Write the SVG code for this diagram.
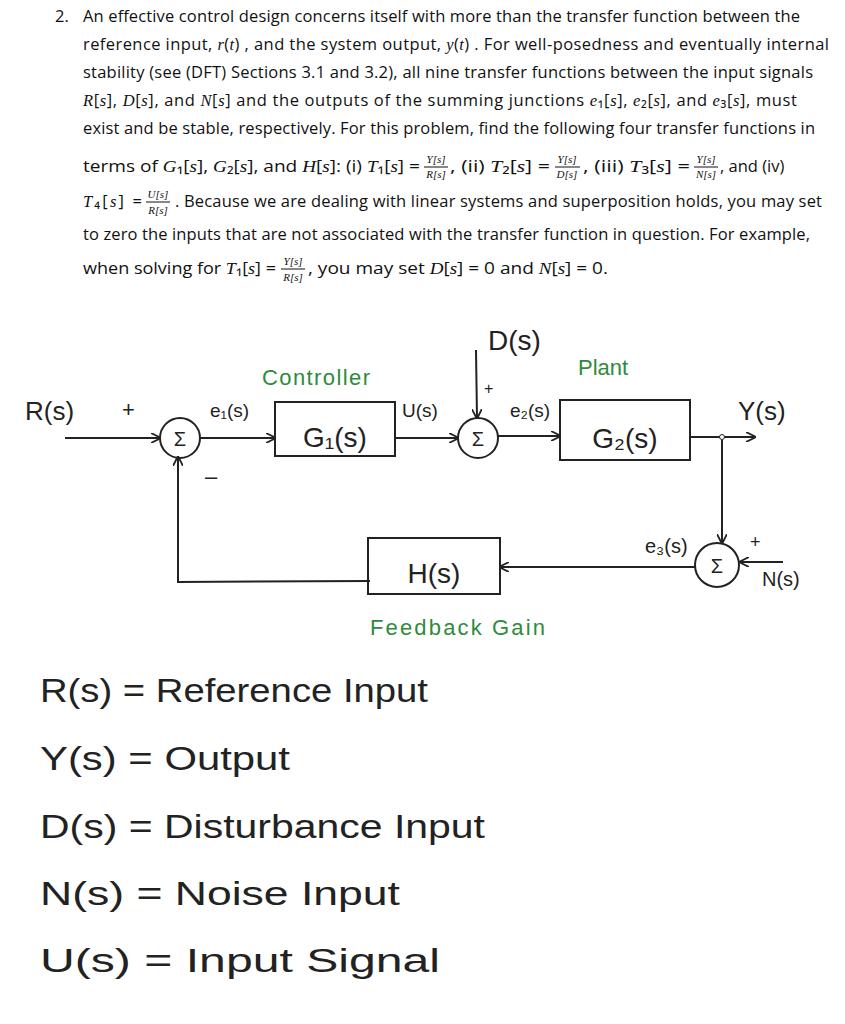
<svg xmlns="http://www.w3.org/2000/svg" width="845" height="1024" viewBox="0 0 845 1024">
<style>
.t{font-family:"Open Sans","Liberation Sans",sans-serif;font-size:16.5px;fill:#111}
.m{font-family:"Liberation Serif",serif;font-style:italic}
.f{font-family:"Liberation Serif",serif;font-style:italic;font-size:11px;fill:#111;text-anchor:middle}
.h{font-family:"Liberation Sans",sans-serif;font-weight:300;fill:#222}
.g{font-family:"Liberation Sans",sans-serif;fill:#2e8b3a}
.ln{fill:none;stroke:#222;stroke-width:2}
</style>
<defs><marker id="a" markerWidth="10" markerHeight="10" refX="9" refY="5" orient="auto" markerUnits="userSpaceOnUse"><path d="M0,0 L10,5 L0,10" fill="none" stroke="#222" stroke-width="1.8"/></marker></defs>
<g id="problem">
<text class="t" x="55" y="22">2.</text>
<text class="t" x="83" y="22" textLength="717">An effective control design concerns itself with more than the transfer function between the</text>
<text class="t" x="83" y="50" textLength="746">reference input, <tspan class="m">r</tspan>(<tspan class="m">t</tspan>) , and the system output, <tspan class="m">y</tspan>(<tspan class="m">t</tspan>) .  For well-posedness and eventually internal</text>
<text class="t" x="83" y="78" textLength="730">stability (see (DFT) Sections 3.1 and 3.2), all nine transfer functions between the input signals</text>
<text class="t" x="83" y="106" textLength="714"><tspan class="m">R</tspan>[<tspan class="m">s</tspan>], <tspan class="m">D</tspan>[<tspan class="m">s</tspan>], and <tspan class="m">N</tspan>[<tspan class="m">s</tspan>] and the outputs of the summing junctions <tspan class="m">e</tspan>₁[<tspan class="m">s</tspan>], <tspan class="m">e</tspan>₂[<tspan class="m">s</tspan>], and <tspan class="m">e</tspan>₃[<tspan class="m">s</tspan>], must</text>
<text class="t" x="83" y="134" textLength="732">exist and be stable, respectively.  For this problem, find the following four transfer functions in</text>
<text class="t" x="83" y="172" textLength="337" lengthAdjust="spacingAndGlyphs">terms of <tspan class="m">G</tspan>₁[<tspan class="m">s</tspan>], <tspan class="m">G</tspan>₂[<tspan class="m">s</tspan>], and <tspan class="m">H</tspan>[<tspan class="m">s</tspan>]: (i) <tspan class="m">T</tspan>₁[<tspan class="m">s</tspan>] =</text>
<text class="f" x="436" y="163">Y[s]</text><line x1="424" y1="167" x2="448" y2="167" stroke="#111"/><text class="f" x="436" y="178">R[s]</text>
<text class="t" x="450" y="172" textLength="100" lengthAdjust="spacingAndGlyphs">, (ii) <tspan class="m">T</tspan>₂[<tspan class="m">s</tspan>] =</text>
<text class="f" x="567" y="163">Y[s]</text><line x1="555" y1="167" x2="580" y2="167" stroke="#111"/><text class="f" x="567" y="178">D[s]</text>
<text class="t" x="583" y="172" textLength="107" lengthAdjust="spacingAndGlyphs">, (iii) <tspan class="m">T</tspan>₃[<tspan class="m">s</tspan>] =</text>
<text class="f" x="706" y="163">Y[s]</text><line x1="694" y1="167" x2="718" y2="167" stroke="#111"/><text class="f" x="706" y="178">N[s]</text>
<text class="t" x="720" y="172">, and (iv)</text>
<text class="t" x="83" y="207" textLength="59"><tspan class="m">T</tspan>₄[<tspan class="m">s</tspan>] =</text>
<text class="f" x="158" y="198">U[s]</text><line x1="146" y1="202" x2="170" y2="202" stroke="#111"/><text class="f" x="158" y="214">R[s]</text>
<text class="t" x="175" y="207" textLength="647">.  Because we are dealing with linear systems and superposition holds, you may set</text>
<text class="t" x="83" y="240" textLength="727">to zero the inputs that are not associated with the transfer function in question.  For example,</text>
<text class="t" x="83" y="274" textLength="193" lengthAdjust="spacingAndGlyphs">when solving for <tspan class="m">T</tspan>₁[<tspan class="m">s</tspan>] =</text>
<text class="f" x="293" y="265">Y[s]</text><line x1="281" y1="269" x2="305" y2="269" stroke="#111"/><text class="f" x="293" y="281">R[s]</text>
<text class="t" x="308" y="274" textLength="300" lengthAdjust="spacingAndGlyphs">, you may set <tspan class="m">D</tspan>[<tspan class="m">s</tspan>] = 0 and <tspan class="m">N</tspan>[<tspan class="m">s</tspan>] = 0.</text>
</g>
<g id="connectors">
<line class="ln" x1="65" y1="438" x2="160" y2="438" marker-end="url(#a)"/>
<line class="ln" x1="200" y1="438" x2="275" y2="438" marker-end="url(#a)"/>
<line class="ln" x1="395" y1="438" x2="458" y2="438" marker-end="url(#a)"/>
<line class="ln" x1="476" y1="350" x2="477" y2="418" marker-end="url(#a)"/>
<line class="ln" x1="498" y1="436" x2="560" y2="436" marker-end="url(#a)"/>
<line class="ln" x1="690" y1="437" x2="755" y2="437" marker-end="url(#a)"/>
<circle cx="722" cy="437" r="2.5" fill="#fff" stroke="#222"/>
<line class="ln" x1="722" y1="440" x2="722" y2="543" marker-end="url(#a)"/>
<line class="ln" x1="783" y1="562" x2="740" y2="562" marker-end="url(#a)"/>
<line class="ln" x1="695" y1="567" x2="500" y2="567" marker-end="url(#a)"/>
<polyline class="ln" points="370,581 178,582 178,457" marker-end="url(#a)"/>
</g>
<g id="sum1"><circle class="ln" cx="180" cy="438" r="20"/><text class="h" x="180" y="446" font-size="20" text-anchor="middle">Σ</text></g>
<g id="sum2"><circle class="ln" cx="478" cy="438" r="20"/><text class="h" x="478" y="446" font-size="20" text-anchor="middle">Σ</text></g>
<g id="sum3"><circle class="ln" cx="717" cy="565" r="22"/><text class="h" x="717" y="573" font-size="20" text-anchor="middle">Σ</text></g>
<g id="G1"><rect class="ln" x="275" y="402" width="120" height="54"/><text class="h" x="335" y="447" font-size="28" text-anchor="middle">G₁(s)</text></g>
<g id="G2"><rect class="ln" x="560" y="400" width="130" height="60"/><text class="h" x="625" y="448" font-size="28" text-anchor="middle">G₂(s)</text></g>
<g id="H"><rect class="ln" x="368" y="538" width="132" height="56"/><text class="h" x="434" y="583" font-size="28" text-anchor="middle">H(s)</text></g>
<g id="labels">
<text class="h" x="25" y="420" font-size="26">R(s)</text>
<text class="h" x="122" y="417" font-size="22">+</text>
<text class="h" x="205" y="484" font-size="22">–</text>
<text class="h" x="210" y="417" font-size="19">e₁(s)</text>
<text class="h" x="402" y="417" font-size="19">U(s)</text>
<text class="h" x="488" y="350" font-size="28">D(s)</text>
<text class="h" x="484" y="394" font-size="16">+</text>
<text class="h" x="510" y="417" font-size="19">e₂(s)</text>
<text class="h" x="738" y="420" font-size="26">Y(s)</text>
<text class="h" x="645" y="553" font-size="20">e₃(s)</text>
<text class="h" x="750" y="548" font-size="18">+</text>
<text class="h" x="762" y="586" font-size="20">N(s)</text>
<text class="g" x="262" y="385" font-size="22" textLength="108">Controller</text>
<text class="g" x="578" y="375" font-size="22">Plant</text>
<text class="g" x="370" y="635" font-size="22" textLength="175">Feedback Gain</text>
</g>
<g id="legend">
<text class="h" x="40" y="702" font-size="34" textLength="388" lengthAdjust="spacingAndGlyphs">R(s) = Reference Input</text>
<text class="h" x="40" y="770" font-size="34" textLength="250" lengthAdjust="spacingAndGlyphs">Y(s) = Output</text>
<text class="h" x="40" y="838" font-size="34" textLength="445" lengthAdjust="spacingAndGlyphs">D(s) = Disturbance Input</text>
<text class="h" x="40" y="905" font-size="34" textLength="360" lengthAdjust="spacingAndGlyphs">N(s) = Noise Input</text>
<text class="h" x="40" y="972" font-size="34" textLength="400" lengthAdjust="spacingAndGlyphs">U(s) = Input Signal</text>
</g>
</svg>
